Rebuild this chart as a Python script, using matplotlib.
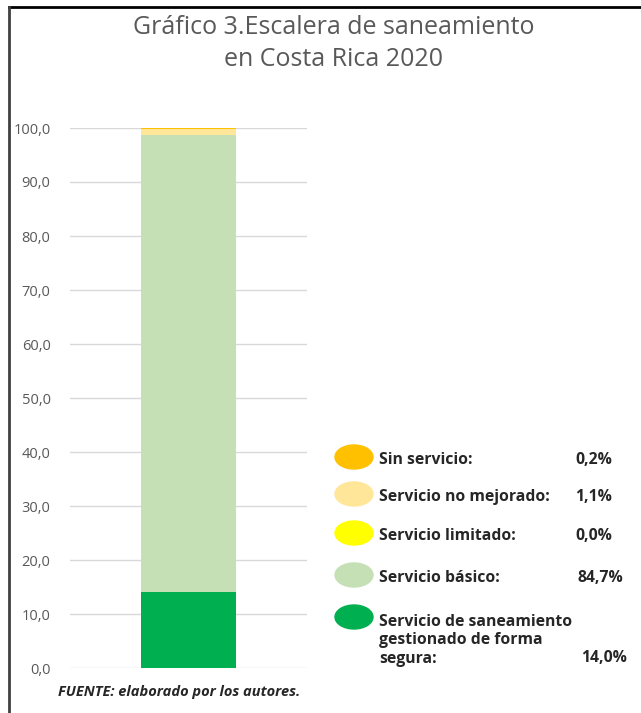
import matplotlib
matplotlib.use('Agg')
import matplotlib.pyplot as plt
from matplotlib.patches import Ellipse

plt.rcParams['font.family'] = ['Open Sans', 'DejaVu Sans']

# datos (porcentaje de la poblacion)
categorias = ['Servicio de saneamiento\ngestionado de forma\nsegura:', 'Servicio básico:',
              'Servicio limitado:', 'Servicio no mejorado:', 'Sin servicio:']
valores = [14.0, 84.7, 0.0, 1.1, 0.2]
colores = ['#00B050', '#C5E0B4', '#FFFF00', '#FFE699', '#FFC000']
yticks = [0, 10, 20, 30, 40, 50, 60, 70, 80, 90, 100]

W, H = 641, 713
fig = plt.figure(figsize=(W / 100, H / 100), dpi=100)

# eje principal
ax = fig.add_axes([70 / W, 1 - 668 / H, 237 / W, 540 / H])
base = 0
for v, c in zip(valores, colores):
    ax.bar(0, v, bottom=base, width=0.4, color=c, zorder=3)
    base += v
ax.set_xlim(-0.5, 0.5)
ax.set_ylim(0, 100)
ax.set_yticks(yticks)
ax.set_yticklabels([f'{t:.1f}'.replace('.', ',') for t in yticks], color='#595959', fontsize=10.5)
ax.set_xticks([])
ax.tick_params(axis='y', length=0, pad=14)
ax.grid(axis='y', color='#D9D9D9', linewidth=1, zorder=0)
for s in ax.spines.values():
    s.set_visible(False)

# capa para titulo, leyenda y marco (en pixeles)
lay = fig.add_axes([0, 0, 1, 1], facecolor='none')
lay.set_xlim(0, W)
lay.set_ylim(H, 0)
lay.axis('off')

lay.plot([9, W], [7, 7], color='black', lw=2)
lay.plot([9, 9], [7, H], color='#404040', lw=2)

lay.text(334, 28, 'Gráfico 3.Escalera de saneamiento', ha='center', va='center',
         fontsize=18, color='#595959')
lay.text(334, 60, 'en Costa Rica 2020', ha='center', va='center',
         fontsize=18, color='#595959')

# leyenda con porcentajes
fs = 11.3
filas_y = [620, 578, 536, 497, 460]
for cat, v, c, y in zip(categorias, valores, colores, filas_y):
    lay.add_patch(Ellipse((354, y - 3), 38, 24, color=c))
    if '\n' in cat:
        lay.text(379, y - 6, cat, ha='left', va='top', fontsize=fs, fontweight='bold',
                 color='#262626', linespacing=1.2)
        lay.text(627, y + 38, f'{v:.1f}%'.replace('.', ','), ha='right', va='center',
                 fontsize=fs, fontweight='bold', color='#262626')
    else:
        lay.text(379, y, cat, ha='left', va='center', fontsize=fs, fontweight='bold',
                 color='#262626')
        lay.text(612 if v < 10 else 623, y, f'{v:.1f}%'.replace('.', ','), ha='right',
                 va='center', fontsize=fs, fontweight='bold', color='#262626')

lay.text(179, 692, 'FUENTE: elaborado por los autores.', ha='center', va='center',
         fontsize=10.5, fontweight='bold', fontstyle='italic', color='#262626')

fig.savefig('out.png', dpi=100)
